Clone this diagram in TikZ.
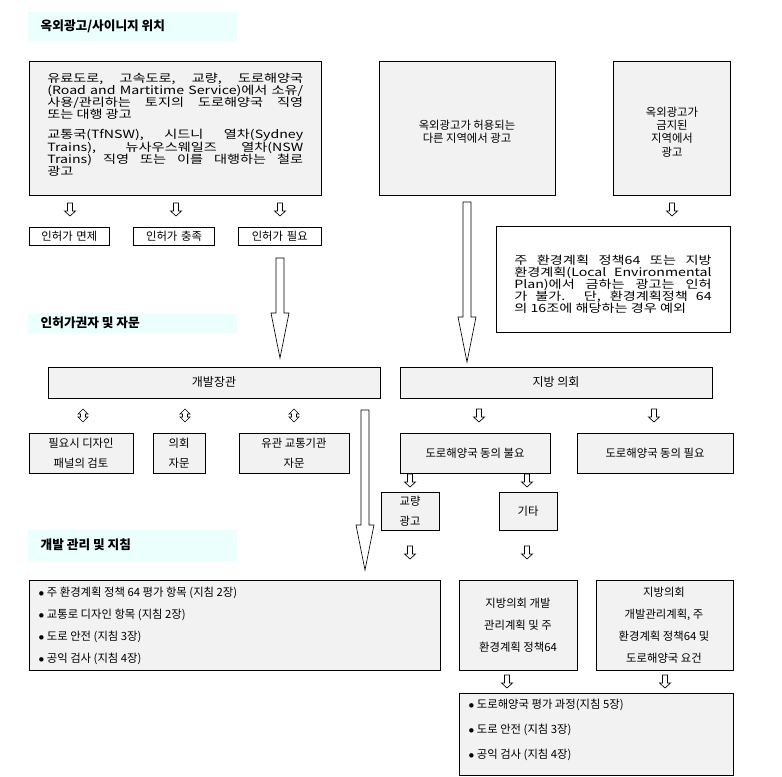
\documentclass[tikz,border=0pt]{standalone}
\usepackage{fontspec}
\setmainfont{Noto Sans CJK KR}
\newfontfamily\widefont[FakeStretch=1.25]{Noto Sans CJK KR}
\begin{document}
\begin{tikzpicture}[x=0.75pt,y=-0.75pt,
  box/.style={draw,fill=gray!10,line width=0.6pt,font=\fontsize{8.5}{10.5}\selectfont,inner sep=0pt},
  wbox/.style={box,fill=white},
  hdr/.style={fill=green!12!cyan!8,draw=none,font=\bfseries\fontsize{9.5}{11}\selectfont,anchor=west},
  arr/.style={draw,fill=white,line width=0.5pt}]
\useasboundingbox (0,0) rectangle (782,777);
\newcommand\dnarr[3]{\draw[arr] (#1-2.5,#2) -- (#1+2.5,#2) -- (#1+2.5,#3-5) -- (#1+5.5,#3-5) -- (#1,#3) -- (#1-5.5,#3-5) -- (#1-2.5,#3-5) -- cycle;}
\newcommand\bigarr[3]{\draw[arr] (#1-4,#2) -- (#1+4,#2) -- (#1+4,#3-45) -- (#1+9,#3-45) -- (#1,#3) -- (#1-9,#3-45) -- (#1-4,#3-45) -- cycle;}
\newcommand\udarr[3]{\draw[arr] (#1,#2) -- (#1+5,#2+5) -- (#1+2.5,#2+5) -- (#1+2.5,#3-5) -- (#1+5,#3-5) -- (#1,#3) -- (#1-5,#3-5) -- (#1-2.5,#3-5) -- (#1-2.5,#2+5) -- (#1-5,#2+5) -- cycle;}
% headers
\fill[green!12!cyan!8] (28,12) rectangle (237,41);
\node[hdr] (h1) at (36,26) {옥외광고/사이니지 위치};
\fill[green!12!cyan!8] (28,314) rectangle (237,333);
\node[hdr] (h2) at (36,323) {인허가권자 및 자문};
\fill[green!12!cyan!8] (28,530) rectangle (237,561);
\node[hdr] (h3) at (36,545) {개발 관리 및 지침};
% top boxes
\draw[box] (29,61) rectangle (321,195);
\node[font=\widefont\fontsize{8.5}{9}\selectfont,text width=192pt,align=justify,anchor=north west,inner sep=0pt] (a) at (47,73) {유료도로, 고속도로, 교량, 도로해양국\linebreak (Road and Martitime Service)에서 소유/\linebreak 사용/관리하는 토지의 도로해양국 직영\linebreak 또는 대행 광고\\[6pt]교통국(TfNSW), 시드니 열차(Sydney\linebreak Trains), 뉴사우스웨일즈 열차(NSW\linebreak Trains) 직영 또는 이를 대행하는 철로\linebreak 광고};
\draw[box] (379,61) rectangle (555,195);
\node[align=center,font=\fontsize{8.5}{10}\selectfont] (b) at (467,132) {옥외광고가 허용되는\\다른 지역에서 광고};
\draw[box] (613,61) rectangle (730,195);
\node[align=center,font=\fontsize{8.5}{10}\selectfont] (c) at (672,132) {옥외광고가\\금지된\\지역에서\\광고};
\dnarr{70}{203}{216}\dnarr{176}{203}{216}\dnarr{280}{203}{216}\dnarr{672}{203}{216}
\node[box,fill=white,anchor=north west,minimum height=13.5pt,text width=60pt,align=center] (p1) at (29,227) {인허가 면제};
\node[box,fill=white,anchor=north west,minimum height=13.5pt,text width=61pt,align=center] (p2) at (133,227) {인허가 충족};
\node[box,fill=white,anchor=north west,minimum height=13.5pt,text width=62pt,align=center] (p3) at (238,227) {인허가 필요};
\draw[wbox] (496,226) rectangle (730,332);
\node[font=\widefont\fontsize{8.5}{9}\selectfont,text width=148pt,align=justify,inner sep=0pt] (d) at (613,284) {주 환경계획 정책64 또는 지방\linebreak 환경계획(Local Environmental\linebreak Plan)에서 금하는 광고는 인허\linebreak 가 불가. 단, 환경계획정책 64\linebreak 의 16조에 해당하는 경우 예외};
\bigarr{280}{258}{358}
\bigarr{467}{202}{362}
% level 2
\draw[box] (48,367) rectangle (380,398); \node (e) at (214,382.5) {\fontsize{9}{10}\selectfont 개발장관};
\draw[box] (400,367) rectangle (712,398); \node (f) at (556,382.5) {\fontsize{9}{10}\selectfont 지방 의회};
\udarr{83}{409}{422}\udarr{185}{409}{422}\udarr{294}{409}{422}
\dnarr{479}{409}{422}\dnarr{654}{409}{422}
\draw[box] (29,433) rectangle (133,473); \node[align=center,font=\fontsize{8.5}{15}\selectfont] (g1) at (81,453) {필요시 디자인\\패널의 검토};
\draw[box] (153,433) rectangle (205,473); \node[align=center,font=\fontsize{8.5}{15}\selectfont] (g2) at (179,453) {의회\\자문};
\draw[box] (239,433) rectangle (349,473); \node[align=center,font=\fontsize{8.5}{15}\selectfont] (g3) at (294,453) {유관 교통기관\\자문};
\draw[box] (400,433) rectangle (550,473); \node[font=\fontsize{8.5}{10}\selectfont] (g4) at (475,453) {도로해양국 동의 불요};
\draw[box] (577,433) rectangle (733,473); \node[font=\fontsize{8.5}{10}\selectfont] (g5) at (655,453) {도로해양국 동의 필요};
\bigarr{365}{410}{570}
\dnarr{410}{474}{487}\dnarr{527}{474}{487}
\draw[box] (381,492) rectangle (439,530); \node[align=center,font=\fontsize{8.5}{15}\selectfont] (k1) at (410,511) {교량\\광고};
\draw[box] (499,492) rectangle (557,530); \node[font=\fontsize{8.5}{10}\selectfont] (k2) at (528,511) {기타};
\dnarr{410}{546}{559}\dnarr{527}{546}{559}
% level 3
\draw[box] (29,580) rectangle (440,670);
\node[anchor=north west,align=left,font=\fontsize{8.5}{16.5}\selectfont] (l1) at (34,582) {$\bullet$ 주 환경계획 정책 64 평가 항목 (지침 2장)\\$\bullet$ 교통로 디자인 항목 (지침 2장)\\$\bullet$ 도로 안전 (지침 3장)\\$\bullet$ 공익 검사 (지침 4장)};
\draw[box] (459,580) rectangle (577,670); \node[align=center,font=\fontsize{8.5}{16.5}\selectfont] (l2) at (518,625) {지방의회 개발\\관리계획 및 주\\환경계획 정책64};
\draw[box] (596,580) rectangle (733,670); \node[align=center,font=\fontsize{8.5}{16.5}\selectfont] (l3) at (664,625) {지방의회\\개발관리계획, 주\\환경계획 정책64 및\\도로해양국 요건};
\dnarr{507}{675}{688}\dnarr{665}{675}{688}
\draw[box] (459,693) rectangle (733,775);
\node[anchor=north west,align=left,font=\fontsize{8.5}{19}\selectfont] (l4) at (464,694) {$\bullet$ 도로해양국 평가 과정(지침 5장)\\$\bullet$ 도로 안전 (지침 3장)\\$\bullet$ 공익 검사 (지침 4장)};
\end{tikzpicture}
\end{document}
